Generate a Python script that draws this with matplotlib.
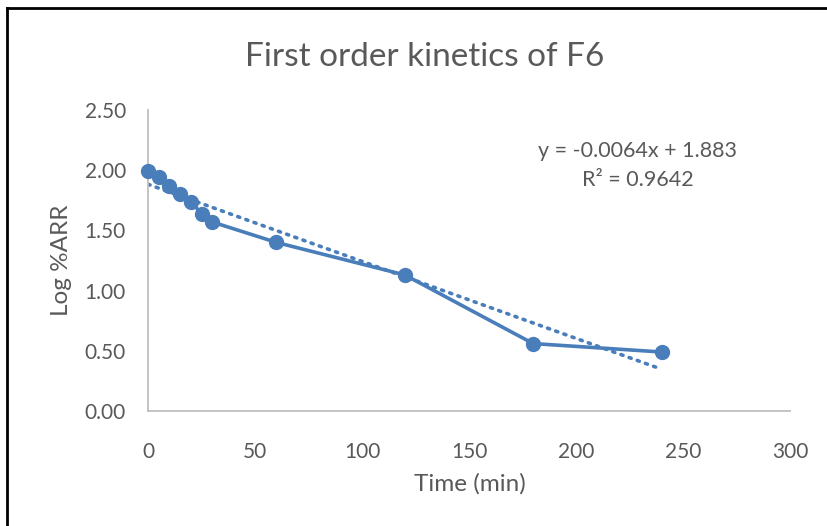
import numpy as np
import matplotlib.pyplot as plt
from matplotlib.lines import Line2D

time_min = [0, 5, 10, 15, 20, 25, 30, 60, 120, 180, 240]
log_arr = [1.99, 1.94, 1.87, 1.80, 1.74, 1.64, 1.57, 1.40, 1.13, 0.56, 0.49]
x_ticks = [0, 50, 100, 150, 200, 250, 300]
y_ticks = [0.0, 0.5, 1.0, 1.5, 2.0, 2.5]
slope = -0.0064
intercept = 1.883
r2 = 0.9642

blue = '#4A7EBB'
grey_txt = '#595959'

plt.rcParams['font.family'] = ['Lato', 'DejaVu Sans']

fig = plt.figure(figsize=(8.27, 5.26), dpi=100)
ax = fig.add_axes([148/827, 1 - 411/526, 642/827, 301/526])

# trendline (linear fit shown by excel)
fit_x = np.array([time_min[0], time_min[-1]])
ax.plot(fit_x, slope * fit_x + intercept, linestyle=(0, (0.6, 1.8)), color=blue,
        linewidth=2.6, dash_capstyle='round', zorder=2)
ax.plot(time_min, log_arr, color=blue, linewidth=2.6, marker='o', markersize=10,
        zorder=3, clip_on=False)

ax.set_xlim(0, 300)
ax.set_ylim(0, 2.5)
ax.set_xticks(x_ticks)
ax.set_yticks(y_ticks)
ax.set_yticklabels(['%.2f' % v for v in y_ticks])
ax.tick_params(length=0, labelsize=15, colors=grey_txt)
ax.tick_params(axis='y', pad=16)
ax.tick_params(axis='x', pad=22)
for s in ['top', 'right']:
    ax.spines[s].set_visible(False)
for s in ['left', 'bottom']:
    ax.spines[s].set_color('#BFBFBF')
    ax.spines[s].set_linewidth(1.3)

fig.text(425/827, 1 - 57/526, 'First order kinetics of F6', ha='center', va='center',
         fontsize=24, color=grey_txt)
fig.text(470/827, 1 - 484/526, 'Time (min)', ha='center', va='center',
         fontsize=17.5, color=grey_txt)
fig.text(62/827, 1 - 260/526, 'Log %ARR', ha='center', va='center', rotation=90,
         fontsize=17.5, color=grey_txt)
fig.text(638/827, 1 - 151/526, 'y = %.4fx + %.3f' % (slope, intercept), ha='center',
         va='center', fontsize=15.5, color=grey_txt)
fig.text(638/827, 1 - 180/526, 'R² = %.4f' % r2, ha='center', va='center',
         fontsize=15.5, color=grey_txt)

# outer border of the screenshot
fig.add_artist(Line2D([7/827, 7/827], [0, 1 - 8/526], color='black', linewidth=2))
fig.add_artist(Line2D([7/827, 1], [1 - 8/526, 1 - 8/526], color='black', linewidth=2))

fig.savefig('out.png', dpi=100)
